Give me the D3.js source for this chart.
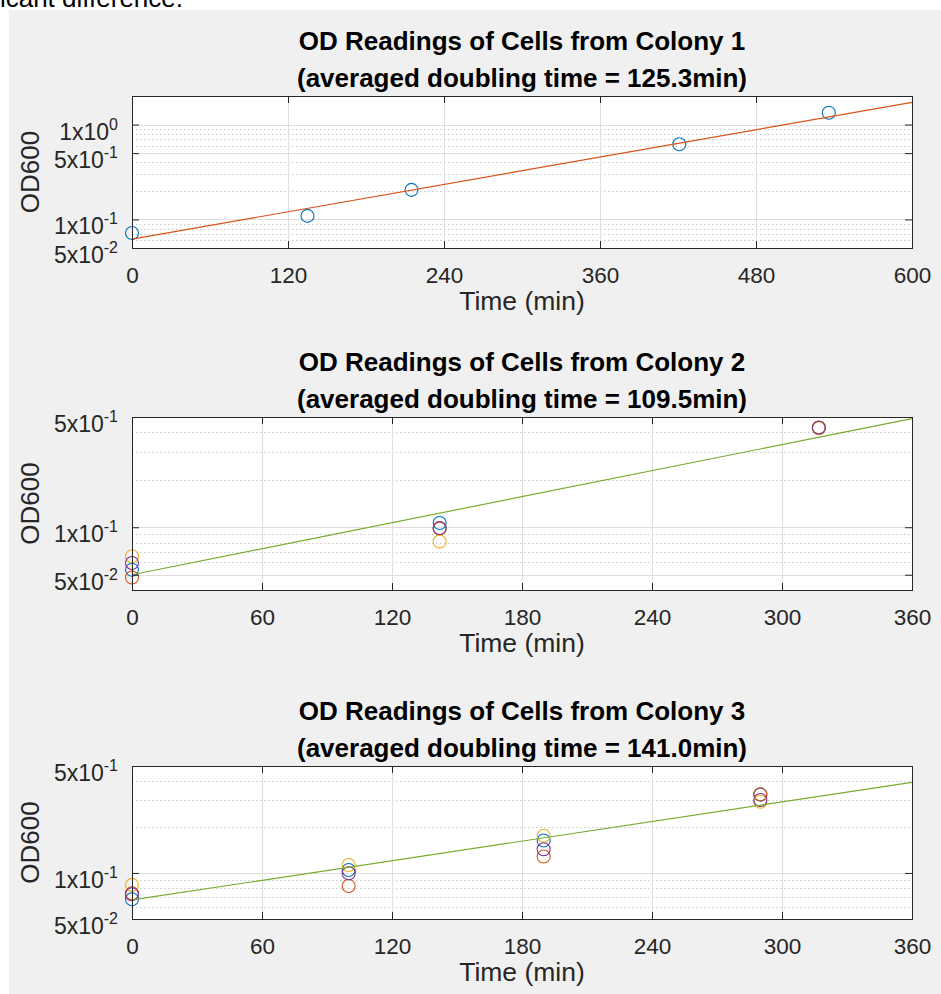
<!DOCTYPE html>
<html>
<head>
<meta charset="utf-8">
<script src="https://cdn.jsdelivr.net/npm/d3@7"></script>
<style>
  html, body { margin: 0; padding: 0; background: #ffffff; }
  svg { display: block; font-family: "Liberation Sans", Arial, Helvetica, sans-serif; }
</style>
</head>
<body>
<svg id="fig" width="941" height="994"></svg>
<script>
// OD600 growth readings for three colonies, with exponential fits (log y axis)
const colonyTitles = [
  "OD Readings of Cells from Colony 1",
  "OD Readings of Cells from Colony 2",
  "OD Readings of Cells from Colony 3"
];
const doublingTimes = [125.3, 109.5, 141.0];   // minutes
const fitStartOD = [0.062, 0.050, 0.0666];     // fitted OD at t = 0

const xMaxValues = [600, 360, 360];
const xTicksColony1 = [0, 120, 240, 360, 480, 600];
const xTicksColony23 = [0, 60, 120, 180, 240, 300, 360];

const yRangeColony1 = [0.05, 2];
const yRangeColony2 = [0.04, 0.5];
const yRangeColony3 = [0.05, 0.5];
const yTicksColony1 = [0.05, 0.1, 0.5, 1];
const yTicksColony23 = [0.05, 0.1, 0.5];

// Colony 1: single replicate
const timeColony1 = [0, 135, 215, 421, 536];
const odColony1 = [0.072, 0.109, 0.205, 0.62, 1.33];

// Colony 2: four replicates
const timeColony2 = [0, 142, 317];
const odColony2Rep1 = [0.0538, 0.1064, 0.427];
const odColony2Rep2 = [0.048, 0.098, 0.429];
const odColony2Rep3 = [0.0654, 0.0813, 0.424];
const odColony2Rep4 = [0.0593, 0.0988, 0.427];

// Colony 3: four replicates
const timeColony3 = [0, 100, 190, 290];
const odColony3Rep1 = [0.0673, 0.1045, 0.163, 0.325];
const odColony3Rep2 = [0.0736, 0.0821, 0.128, 0.3266];
const odColony3Rep3 = [0.0835, 0.1127, 0.175, 0.292];
const odColony3Rep4 = [0.0725, 0.0995, 0.143, 0.300];

// MATLAB default colour order
const colorOrder = ["#0072BD", "#D95319", "#EDB120", "#7E2F8E", "#77AC30"];

const panels = [
  {
    title: colonyTitles[0], dt: doublingTimes[0], od0: fitStartOD[0],
    xMax: xMaxValues[0], xTicks: xTicksColony1,
    yRange: yRangeColony1, yTicks: yTicksColony1,
    series: [{ t: timeColony1, od: odColony1, color: colorOrder[0] }],
    fitColor: colorOrder[1], top: 96, bottom: 248
  },
  {
    title: colonyTitles[1], dt: doublingTimes[1], od0: fitStartOD[1],
    xMax: xMaxValues[1], xTicks: xTicksColony23,
    yRange: yRangeColony2, yTicks: yTicksColony23,
    series: [odColony2Rep1, odColony2Rep2, odColony2Rep3, odColony2Rep4]
      .map((od, i) => ({ t: timeColony2, od, color: colorOrder[i] })),
    fitColor: colorOrder[4], top: 417, bottom: 590
  },
  {
    title: colonyTitles[2], dt: doublingTimes[2], od0: fitStartOD[2],
    xMax: xMaxValues[2], xTicks: xTicksColony23,
    yRange: yRangeColony3, yTicks: yTicksColony23,
    series: [odColony3Rep1, odColony3Rep2, odColony3Rep3, odColony3Rep4]
      .map((od, i) => ({ t: timeColony3, od, color: colorOrder[i] })),
    fitColor: colorOrder[4], top: 766, bottom: 919
  }
];

const plotLeft = 132, plotRight = 912;
const axisColor = "#262626";
const majorGrid = "#dedede";
const minorGrid = "#c9c9c9";
const tickLen = 7;

const svg = d3.select("#fig");

// page text above the figure
svg.append("text")
  .attr("x", 183).attr("y", 7)
  .attr("text-anchor", "end")
  .attr("font-size", 26)
  .attr("fill", "#000")
  .text("significant difference.");

// figure background
svg.append("rect")
  .attr("x", 9).attr("y", 10)
  .attr("width", 932).attr("height", 984)
  .attr("fill", "#f0f0f0");

function minorValues(domain, majors) {
  const out = [];
  const k0 = Math.floor(Math.log10(domain[0]));
  const k1 = Math.ceil(Math.log10(domain[1]));
  for (let k = k0; k <= k1; k++) {
    for (let m = 1; m <= 9; m++) {
      const v = m * Math.pow(10, k);
      if (v >= domain[0] * 0.999 && v <= domain[1] * 1.001 &&
          !majors.some(t => Math.abs(t - v) / v < 1e-6)) out.push(v);
    }
  }
  return out;
}

function tickParts(v) {
  const e = Math.floor(Math.log10(v) + 1e-9);
  const m = Math.round(v / Math.pow(10, e));
  return { mant: m + "x10", exp: String(e) };
}

panels.forEach(p => {
  const x = d3.scaleLinear().domain([0, p.xMax]).range([plotLeft, plotRight]);
  const y = d3.scaleLog().domain(p.yRange).range([p.bottom, p.top]);
  const g = svg.append("g");
  const cx = (plotLeft + plotRight) / 2;

  // plot area
  g.append("rect")
    .attr("x", plotLeft).attr("y", p.top)
    .attr("width", plotRight - plotLeft).attr("height", p.bottom - p.top)
    .attr("fill", "#ffffff");

  // minor horizontal grid (dotted)
  g.append("g").selectAll("line")
    .data(minorValues(p.yRange, p.yTicks))
    .join("line")
    .attr("x1", plotLeft).attr("x2", plotRight)
    .attr("y1", d => Math.round(y(d)) + 0.5).attr("y2", d => Math.round(y(d)) + 0.5)
    .attr("stroke", minorGrid).attr("stroke-width", 1)
    .attr("stroke-dasharray", "1.5,2.5");

  // major grid
  g.append("g").selectAll("line")
    .data(p.yTicks)
    .join("line")
    .attr("x1", plotLeft).attr("x2", plotRight)
    .attr("y1", d => Math.round(y(d)) + 0.5).attr("y2", d => Math.round(y(d)) + 0.5)
    .attr("stroke", majorGrid).attr("stroke-width", 1);
  g.append("g").selectAll("line")
    .data(p.xTicks)
    .join("line")
    .attr("y1", p.top).attr("y2", p.bottom)
    .attr("x1", d => Math.round(x(d)) + 0.5).attr("x2", d => Math.round(x(d)) + 0.5)
    .attr("stroke", majorGrid).attr("stroke-width", 1);

  // scatter markers
  p.series.forEach(s => {
    g.append("g").selectAll("circle")
      .data(s.t.map((t, i) => ({ t, od: s.od[i] })))
      .join("circle")
      .attr("cx", d => x(d.t)).attr("cy", d => y(d.od))
      .attr("r", 6.5)
      .attr("fill", "none")
      .attr("stroke", s.color).attr("stroke-width", 1.1);
  });

  // exponential fit from doubling time
  const fitPts = [0, p.xMax].map(t => ({ t, od: p.od0 * Math.pow(2, t / p.dt) }));
  g.append("path")
    .datum(fitPts)
    .attr("d", d3.line().x(d => x(d.t)).y(d => y(d.od)))
    .attr("fill", "none")
    .attr("stroke", p.fitColor).attr("stroke-width", 1.2);

  // axes (inward ticks on all four sides)
  const xb = g.append("g")
    .attr("transform", `translate(0,${p.bottom})`)
    .call(d3.axisBottom(x).tickValues(p.xTicks).tickSizeInner(-tickLen).tickSizeOuter(0));
  xb.selectAll("text")
    .attr("y", 35).attr("dy", null)
    .attr("font-size", 22.5).attr("fill", axisColor)
    .attr("font-family", "Liberation Sans, Arial, sans-serif");
  g.append("g")
    .attr("transform", `translate(0,${p.top})`)
    .call(d3.axisTop(x).tickValues(p.xTicks).tickSizeInner(-tickLen).tickSizeOuter(0).tickFormat(() => ""));

  const yl = g.append("g")
    .attr("transform", `translate(${plotLeft},0)`)
    .call(d3.axisLeft(y).tickValues(p.yTicks).tickSizeInner(-tickLen).tickSizeOuter(0).tickFormat(() => ""));
  yl.selectAll(".tick").each(function (d) {
    const parts = tickParts(d);
    const t = d3.select(this).select("text")
      .attr("x", -14).attr("y", 14.5).attr("dy", null)
      .attr("text-anchor", "end")
      .attr("fill", axisColor)
      .attr("font-family", "Liberation Sans, Arial, sans-serif");
    t.append("tspan").attr("font-size", 23).text(parts.mant);
    t.append("tspan").attr("font-size", 16).attr("dy", -10).text(parts.exp);
  });
  g.append("g")
    .attr("transform", `translate(${plotRight},0)`)
    .call(d3.axisRight(y).tickValues(p.yTicks).tickSizeInner(-tickLen).tickSizeOuter(0).tickFormat(() => ""));

  g.selectAll(".domain").remove();
  g.selectAll(".tick line").attr("stroke", axisColor);

  // box
  g.append("rect")
    .attr("x", plotLeft + 0.5).attr("y", p.top + 0.5)
    .attr("width", plotRight - plotLeft).attr("height", p.bottom - p.top)
    .attr("fill", "none").attr("stroke", axisColor).attr("stroke-width", 1);

  // labels
  g.append("text")
    .attr("x", cx).attr("y", p.bottom + 62)
    .attr("text-anchor", "middle").attr("font-size", 26.5).attr("fill", axisColor)
    .text("Time (min)");
  g.append("text")
    .attr("transform", `translate(39,${(p.top + p.bottom) / 2}) rotate(-90)`)
    .attr("text-anchor", "middle").attr("font-size", 26).attr("fill", axisColor)
    .text("OD600");

  // two-line bold title
  g.append("text")
    .attr("x", cx).attr("y", p.top - 46)
    .attr("text-anchor", "middle").attr("font-size", 26).attr("font-weight", "bold")
    .attr("fill", "#000")
    .text(p.title);
  g.append("text")
    .attr("x", cx).attr("y", p.top - 9)
    .attr("text-anchor", "middle").attr("font-size", 26).attr("font-weight", "bold")
    .attr("fill", "#000")
    .text(`(averaged doubling time = ${p.dt.toFixed(1)}min)`);
});
</script>
</body>
</html>
